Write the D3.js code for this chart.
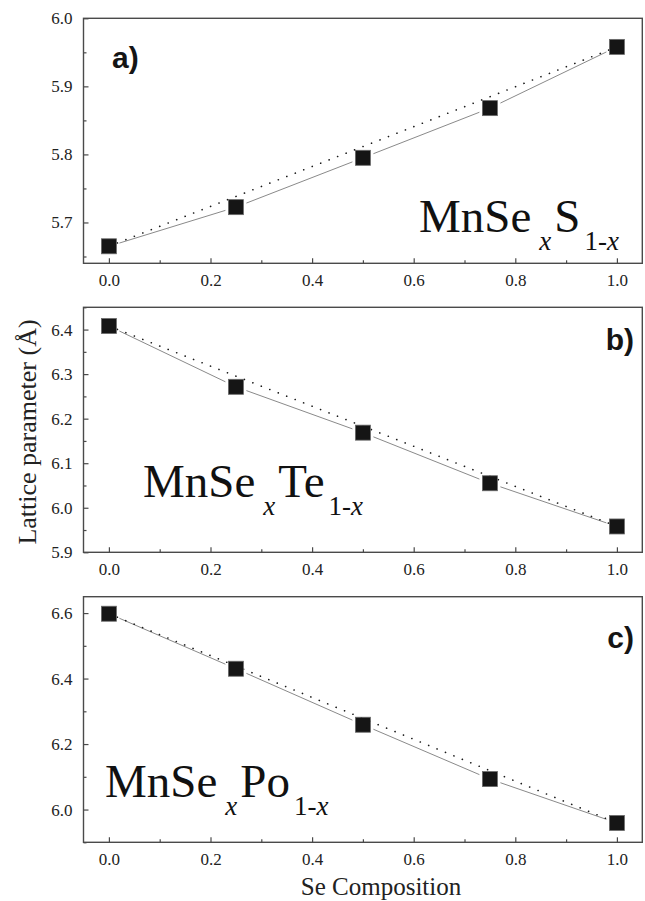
<!DOCTYPE html>
<html>
<head>
<meta charset="utf-8">
<script src="https://cdn.jsdelivr.net/npm/d3@7"></script>
<style>
  html, body { margin: 0; padding: 0; background: #fff; }
  svg { display: block; }
  .tick text { font-family: "Liberation Serif", "Times New Roman", serif; font-size: 17px; fill: #222; }
</style>
</head>
<body>
<svg id="chart" width="645" height="901"></svg>
<script>
// Se composition x of the MnSe(x)Y(1-x) alloys
const composition = [0.0, 0.25, 0.5, 0.75, 1.0];

// Lattice parameters (Å)
const latticeMnSeS  = [5.665, 5.7225, 5.795, 5.868, 5.958];
const latticeMnSeTe = [6.408, 6.2715, 6.1686, 6.055, 5.958];
const latticeMnSePo = [6.598, 6.430, 6.259, 6.093, 5.959];

// Panel tags and alloy partner elements
const panelTags = ["a)", "b)", "c)"];
const partners = ["S", "Te", "Po"];

// Axis ticks
const xMajorTicks = [0.0, 0.2, 0.4, 0.6, 0.8, 1.0];
const xMinorTicks = [0.1, 0.3, 0.5, 0.7, 0.9];
const yMajorTicks = [
  [5.7, 5.8, 5.9, 6.0],
  [5.9, 6.0, 6.1, 6.2, 6.3, 6.4],
  [6.0, 6.2, 6.4, 6.6]
];
const yMinorTicks = [
  [5.65, 5.75, 5.85, 5.95],
  [5.95, 6.05, 6.15, 6.25, 6.35, 6.45],
  [5.9, 6.1, 6.3, 6.5]
];
const yDomains = [[5.64, 6.0], [5.9, 6.45], [5.9, 6.65]];
const xDomain = [-0.05, 1.05];

const seriesList = [latticeMnSeS, latticeMnSeTe, latticeMnSePo];

const svg = d3.select("#chart");
const serif = "'Liberation Serif', 'Times New Roman', serif";
const sans = "'Liberation Sans', Arial, sans-serif";
const frameColor = "#4a4a4a";

const left = 83.5, right = 642.3;
const panels = [
  { top: 18.3, bottom: 263.3 },
  { top: 307.3, bottom: 552.3 },
  { top: 596.7, bottom: 842.3 }
];

// layout for the tag and the formula inside each panel
const tagPos = [
  { x: 112, y: 68, anchor: "start" },
  { x: 634, y: 350, anchor: "end" },
  { x: 634, y: 648, anchor: "end" }
];
const formulaPos = [
  { x: 419, y: 232 },
  { x: 143, y: 497 },
  { x: 105, y: 797 }
];

const x = d3.scaleLinear().domain(xDomain).range([left, right]);

panels.forEach((p, i) => {
  const y = d3.scaleLinear().domain(yDomains[i]).range([p.bottom, p.top]);
  const g = svg.append("g");
  const data = composition.map((c, k) => ({ c, v: seriesList[i][k] }));

  // axes: ticks point inward
  const styleAxis = sel => {
    sel.attr("font-family", serif).attr("font-size", 17);
    sel.select(".domain").remove();
    sel.selectAll(".tick line").attr("stroke", frameColor).attr("stroke-width", 1.2);
    sel.selectAll(".tick text").attr("fill", "#222");
  };

  g.append("g")
    .attr("transform", `translate(0,${p.bottom})`)
    .call(d3.axisBottom(x).tickValues(xMinorTicks).tickSize(-3).tickFormat(""))
    .call(styleAxis);
  g.append("g")
    .attr("transform", `translate(0,${p.bottom})`)
    .call(d3.axisBottom(x).tickValues(xMajorTicks).tickSize(-5).tickPadding(11)
      .tickFormat(d3.format(".1f")))
    .call(styleAxis);

  g.append("g")
    .attr("transform", `translate(${left},0)`)
    .call(d3.axisLeft(y).tickValues(yMinorTicks[i]).tickSize(-3).tickFormat(""))
    .call(styleAxis);
  g.append("g")
    .attr("transform", `translate(${left},0)`)
    .call(d3.axisLeft(y).tickValues(yMajorTicks[i]).tickSize(-5).tickPadding(11)
      .tickFormat(d3.format(".1f")))
    .call(styleAxis);

  // frame
  g.append("rect")
    .attr("x", left).attr("y", p.top)
    .attr("width", right - left).attr("height", p.bottom - p.top)
    .attr("fill", "none")
    .attr("stroke", frameColor)
    .attr("stroke-width", 1.4);

  // solid line through the computed points
  const line = d3.line().x(d => x(d.c)).y(d => y(d.v));
  g.append("path")
    .datum(data)
    .attr("d", line)
    .attr("fill", "none")
    .attr("stroke", "#8a8a8a")
    .attr("stroke-width", 1);

  const size = 15;
  // white halo that opens a small gap in the solid line near each marker
  g.selectAll(".halo")
    .data(data)
    .join("rect")
    .attr("x", d => x(d.c) - size / 2 - 3)
    .attr("y", d => y(d.v) - size / 2 - 3)
    .attr("width", size + 6).attr("height", size + 6)
    .attr("fill", "#fff");

  // dotted Vegard's-law line between the end members
  const ends = [data[0], data[data.length - 1]];
  g.append("path")
    .datum(ends)
    .attr("d", line)
    .attr("fill", "none")
    .attr("stroke", "#1a1a1a")
    .attr("stroke-width", 1.6)
    .attr("stroke-linecap", "round")
    .attr("stroke-dasharray", "0.1 9");

  // square markers
  g.selectAll(".pt")
    .data(data)
    .join("rect")
    .attr("x", d => x(d.c) - size / 2)
    .attr("y", d => y(d.v) - size / 2)
    .attr("width", size).attr("height", size)
    .attr("fill", "#151515")
    .attr("stroke", "#6a6a6a")
    .attr("stroke-width", 0.8);

  // panel tag
  g.append("text")
    .attr("x", tagPos[i].x).attr("y", tagPos[i].y)
    .attr("text-anchor", tagPos[i].anchor)
    .style("font-family", sans)
    .style("font-weight", "bold")
    .style("font-size", "30px")
    .attr("fill", "#151515")
    .text(panelTags[i]);

  // compound formula MnSe_x Y_(1-x)
  const f = g.append("text")
    .attr("x", formulaPos[i].x).attr("y", formulaPos[i].y)
    .style("font-family", serif)
    .style("font-size", "47px")
    .attr("fill", "#111");
  f.append("tspan").text("MnSe");
  f.append("tspan").attr("dx", 8).attr("dy", 18)
    .style("font-size", "27px").style("font-style", "italic").text("x");
  f.append("tspan").attr("dx", 3).attr("dy", -18).text(partners[i]);
  f.append("tspan").attr("dx", 4).attr("dy", 18)
    .style("font-size", "27px").text("1-");
  f.append("tspan")
    .style("font-size", "27px").style("font-style", "italic").text("x");
});

// axis titles
svg.append("text")
  .attr("transform", "translate(36,432) rotate(-90)")
  .attr("text-anchor", "middle")
  .style("font-family", serif)
  .style("font-size", "26px")
  .attr("fill", "#222")
  .text("Lattice parameter (Å)");

svg.append("text")
  .attr("x", 381).attr("y", 895)
  .attr("text-anchor", "middle")
  .style("font-family", serif)
  .style("font-size", "25px")
  .attr("fill", "#222")
  .text("Se Composition");
</script>
</body>
</html>
